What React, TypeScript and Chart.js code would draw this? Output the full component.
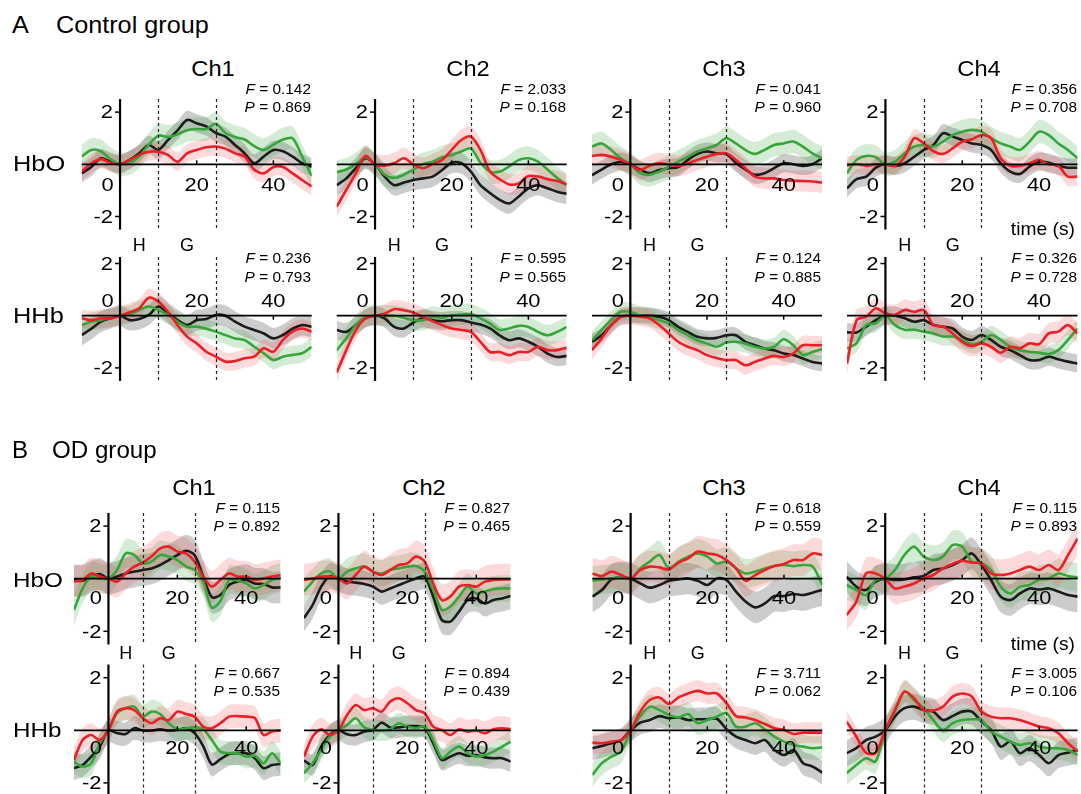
import React, { useEffect, useRef } from "react";
import { Chart, registerables } from "chart.js";

Chart.register(...registerables);

// ---------------- DATA ----------------
const TIME = [-10, -7.5, -5, -2.5, 0, 2.5, 5, 7.5, 10, 12.5, 15, 17.5, 20, 22.5, 25, 27.5, 30, 32.5, 35, 37.5, 40, 42.5, 45, 47.5, 50];

const X_TICKS = [0, 20, 40];
const Y_TICKS = [2, -2];
const HOLD_END = 10;
const GAME_END = 25;

// Control group, HbO
const ctrlHbO1Black = [-0.35, -0.1, 0.23, 0.1, 0, 0.17, 0.42, 0.74, 0.55, 0.93, 1.3, 1.7, 1.57, 1.45, 1.2, 1.06, 0.74, 0.42, 0.04, 0.3, 0.55, 0.5, 0.3, 0.04, -0.1];
const ctrlHbO1Green = [0.3, 0.55, 0.5, 0.2, 0, 0.05, 0.3, 0.75, 1.1, 1.05, 1.15, 1.3, 1.35, 1.35, 1.55, 1.2, 1.05, 0.95, 0.7, 0.55, 0.75, 0.95, 1.0, 0.3, -0.45];
const ctrlHbO1Red = [-0.28, 0.04, 0.2, 0.06, 0, 0.17, 0.36, 0.48, 0.48, 0.36, 0.1, 0.42, 0.55, 0.65, 0.68, 0.6, 0.42, 0.3, -0.2, -0.35, -0.1, -0.1, -0.35, -0.6, -0.85];

const ctrlHbO2Black = [-0.8, -0.54, -0.15, 0.23, 0, -0.47, -0.8, -0.7, -0.6, -0.54, -0.47, -0.22, 0.06, 0.04, -0.28, -0.8, -1.1, -1.36, -1.5, -1.23, -0.92, -0.8, -0.92, -1.05, -1.13];
const ctrlHbO2Green = [-0.3, -0.2, 0, 0.27, 0, -0.4, -0.52, -0.4, -0.2, 0, 0.1, 0.27, 0.36, 0.49, 0.61, 0.06, -0.28, -0.28, -0.08, 0.17, 0.23, 0.1, -0.2, -0.52, -0.8];
const ctrlHbO2Red = [-1.62, -0.98, -0.34, 0.32, 0, -0.05, 0.04, 0.23, 0, -0.15, 0, 0.17, 0.55, 0.93, 1.06, 0.55, -0.28, -0.57, -0.77, -0.73, -0.45, -0.47, -0.57, -0.64, -0.77];

const ctrlHbO3Black = [-0.42, -0.2, 0, 0.1, 0, -0.2, -0.34, -0.22, -0.15, -0.11, 0.17, 0.4, 0.49, 0.42, 0.4, 0.06, -0.2, -0.4, -0.34, -0.15, 0.04, 0, -0.06, 0, 0.23];
const ctrlHbO3Green = [0.68, 0.8, 0.55, 0.23, 0, -0.34, -0.4, -0.28, -0.1, 0.1, 0.29, 0.49, 0.61, 0.74, 1.0, 0.8, 0.55, 0.4, 0.55, 0.74, 0.8, 0.87, 0.68, 0.42, 0.23];
const ctrlHbO3Red = [0.32, 0.36, 0.29, 0.17, 0, -0.22, -0.06, 0.04, 0, -0.06, 0.04, 0.17, 0.29, 0.4, 0.42, 0.17, -0.15, -0.47, -0.54, -0.54, -0.6, -0.63, -0.64, -0.66, -0.7];

const ctrlHbO4Black = [-0.92, -0.57, -0.47, -0.13, 0, -0.06, 0.04, 0.29, 0.55, 0.74, 1.19, 1.06, 0.93, 0.8, 0.74, 0.55, 0.04, -0.28, -0.37, -0.09, 0.1, 0.06, -0.06, -0.13, -0.13];
const ctrlHbO4Green = [-0.34, 0.17, 0.32, 0.27, 0, 0.1, 0.42, 0.68, 0.74, 0.68, 0.87, 1.12, 1.25, 1.32, 1.25, 1.0, 0.8, 0.68, 0.55, 0.87, 1.25, 1.12, 0.8, 0.55, 0.23];
const ctrlHbO4Red = [-0.04, 0, -0.06, 0, 0, -0.06, 0.29, 1.0, 0.8, 0.5, 0.4, 0.61, 0.87, 0.96, 1.12, 1.0, 0.23, -0.06, -0.06, 0.04, 0.17, 0, -0.06, -0.47, -0.47];

// Control group, HHb
const ctrlHHb1Black = [-0.74, -0.5, -0.23, -0.1, 0, -0.17, -0.13, 0.03, 0.35, 0.1, -0.17, -0.36, -0.17, -0.13, 0.03, 0, -0.23, -0.42, -0.55, -0.68, -0.87, -0.74, -0.5, -0.36, -0.42];
const ctrlHHb1Green = [-0.36, -0.23, -0.17, -0.08, 0, 0.05, 0.22, 0.35, 0.22, 0.03, -0.23, -0.42, -0.42, -0.5, -0.61, -0.74, -0.87, -0.93, -1.19, -1.44, -1.7, -1.57, -1.5, -1.44, -1.19];
const ctrlHHb1Red = [-0.1, -0.17, -0.1, -0.1, 0, 0.13, 0.28, 0.69, 0.54, 0.15, -0.36, -0.8, -1.06, -1.38, -1.57, -1.76, -1.74, -1.63, -1.57, -1.25, -1.38, -0.93, -0.61, -0.49, -0.61];

const ctrlHHb2Black = [-0.55, -0.62, -0.36, -0.1, 0, -0.1, -0.43, -0.49, -0.26, -0.1, -0.17, -0.21, -0.17, -0.17, -0.26, -0.34, -0.49, -0.75, -0.94, -0.87, -1.0, -1.19, -1.45, -1.58, -1.54];
const ctrlHHb2Green = [-1.32, -0.87, -0.36, -0.04, 0, 0, 0, -0.08, -0.17, -0.17, -0.04, -0.08, 0.02, 0.04, 0.06, -0.1, -0.3, -0.55, -0.49, -0.39, -0.43, -0.62, -0.75, -0.62, -0.43];
const ctrlHHb2Red = [-2.18, -1.32, -0.55, -0.1, 0, 0.08, 0.25, 0.21, 0.12, -0.04, -0.21, -0.36, -0.49, -0.55, -0.62, -1.0, -1.39, -1.39, -1.51, -1.39, -1.39, -1.19, -1.32, -1.32, -1.23];

const ctrlHHb3Black = [-1.0, -0.75, -0.36, -0.04, 0, 0.02, 0, -0.04, -0.17, -0.43, -0.62, -0.81, -0.87, -0.85, -0.75, -0.75, -1.0, -1.13, -1.26, -1.32, -1.45, -1.51, -1.64, -1.77, -1.83];
const ctrlHHb3Green = [-0.94, -0.55, -0.17, 0.15, 0.15, 0.02, -0.04, -0.17, -0.3, -0.55, -0.75, -0.94, -1.07, -1.19, -1.03, -1.0, -1.07, -1.19, -1.26, -1.19, -0.9, -1.13, -1.51, -1.39, -1.28];
const ctrlHHb3Red = [-1.32, -0.87, -0.36, -0.04, 0, -0.04, -0.1, -0.36, -0.68, -1.0, -1.19, -1.32, -1.51, -1.62, -1.7, -1.7, -1.9, -1.77, -1.64, -1.54, -1.58, -1.45, -1.13, -1.13, -1.13];

const ctrlHHb4Black = [-0.64, -0.64, -0.42, -0.17, 0, 0, -0.1, -0.23, -0.17, -0.36, -0.42, -0.49, -0.8, -0.93, -0.74, -0.93, -1.19, -1.32, -1.51, -1.7, -1.7, -1.57, -1.67, -1.76, -1.83];
const ctrlHHb4Green = [-1.25, -1.05, -0.36, -0.29, 0, -0.36, -0.54, -0.54, -0.61, -0.68, -0.8, -0.8, -0.93, -1.09, -1.0, -0.74, -0.93, -1.19, -1.32, -1.38, -1.42, -1.47, -1.32, -0.93, -0.49];
const ctrlHHb4Red = [-1.83, -0.17, -0.04, 0.28, 0.09, 0.03, 0.22, 0.15, 0.22, -0.36, -0.42, -0.68, -1.0, -1.16, -1.06, -1.19, -1.42, -1.19, -1.25, -1.06, -1.09, -0.68, -0.61, -0.36, -0.68];

// OD group, HbO
const odHbO1Black = [-0.05, -0.08, 0.08, 0.18, 0, 0.08, 0.2, 0.27, 0.33, 0.39, 0.52, 0.71, 0.9, 1.06, 0.9, 0.08, -0.7, -0.62, -0.24, -0.11, -0.05, -0.18, -0.2, -0.33, -0.33];
const odHbO1Green = [-1.19, -0.37, 0.08, 0.01, 0, 0.33, 0.96, 0.9, 0.58, 0.65, 0.9, 0.84, 0.71, 0.46, 0.33, -0.11, -1.1, -0.85, -0.05, -0.08, -0.18, -0.37, -0.24, -0.05, 0.05];
const odHbO1Red = [-0.11, -0.05, 0.2, 0.08, 0, -0.11, 0.2, 0.46, 0.61, 0.84, 1.15, 1.22, 1.03, 0.96, 0.65, 0.08, -0.3, -0.05, 0.2, 0.08, 0.08, -0.05, 0.01, 0.08, 0.14];

const odHbO2Black = [-1.5, -1.0, -0.3, 0.1, 0, -0.11, -0.15, -0.2, -0.3, -0.49, -0.37, -0.24, -0.11, 0.01, 0.08, -0.68, -1.57, -1.63, -1.25, -0.81, -0.75, -0.94, -0.81, -0.75, -0.66];
const odHbO2Green = [-0.49, -0.11, 0.2, 0.27, 0, 0.27, 0.39, 0.46, 0.27, 0.2, 0.33, 0.39, 0.46, 0.48, 0.27, -0.43, -1.19, -1.06, -0.68, -0.3, -0.56, -0.49, -0.4, -0.37, -0.37];
const odHbO2Red = [-0.05, 0.01, 0.08, 0.08, 0, -0.18, 0.14, 0.46, 0.27, 0.14, 0.33, 0.52, 0.58, 0.84, 0.65, -0.18, -0.81, -0.68, -0.3, -0.24, -0.3, -0.11, -0.05, -0.03, -0.03];

const odHbO3Black = [-0.68, -0.43, -0.03, 0.05, 0, -0.18, -0.34, -0.24, -0.08, -0.03, 0.01, -0.08, -0.24, 0.01, -0.05, -0.49, -0.87, -1.09, -0.94, -0.66, -0.66, -0.58, -0.62, -0.53, -0.43];
const odHbO3Green = [-0.08, -0.03, 0.01, 0.05, 0, 0.39, 0.65, 0.9, 0.39, 0.65, 0.84, 0.96, 0.84, 0.58, 0.65, 0.39, 0.2, 0.27, 0.39, 0.48, 0.52, 0.48, 0.52, 0.46, -0.24];
const odHbO3Red = [0.2, 0.1, 0.27, 0.14, 0, 0.33, 0.46, 0.43, 0.35, 0.61, 0.77, 1.03, 0.96, 0.9, 0.71, 0.39, -0.08, 0.14, 0.33, 0.48, 0.56, 0.71, 0.71, 0.96, 0.9];

const odHbO4Black = [0.08, -0.3, -0.43, -0.11, 0, -0.05, -0.03, 0.05, 0.1, 0.33, 0.39, 0.52, 0.71, 0.96, 0.52, -0.05, -0.68, -0.81, -0.56, -0.37, -0.41, -0.37, -0.49, -0.62, -0.68];
const odHbO4Green = [-0.24, -0.43, -0.62, -0.05, 0, 0.33, 0.9, 1.22, 0.84, 0.71, 0.84, 1.28, 1.22, 0.65, 0.58, 0.33, -0.3, -0.56, -0.3, -0.24, -0.03, 0.01, 0.2, 0.1, 0.05];
const odHbO4Red = [-1.38, -0.87, 0.2, 0.2, 0, -0.37, -0.3, -0.18, 0.01, 0.14, 0.39, 0.56, 0.68, 0.61, 0.58, 0.2, 0.14, 0.2, 0.33, 0.46, 0.33, 0.52, 0.33, 0.9, 1.53];

// OD group, HHb
const odHHb1Black = [-1.44, -1.32, -1.0, -0.62, 0, -0.11, -0.14, 0.08, -0.01, -0.01, 0.04, -0.01, 0.01, 0.08, -0.11, -0.6, -1.3, -1.1, -0.9, -0.87, -0.87, -1.06, -1.44, -1.32, -1.28];
const odHHb1Green = [-1.19, -1.38, -1.25, -0.49, 0, 0.65, 0.84, 0.9, 0.52, 0.71, 0.62, 0.27, 0.04, 0.08, 0.11, 0.04, -0.37, -0.81, -0.87, -0.87, -1.0, -0.97, -1.25, -0.87, -1.25];
const odHHb1Red = [-1.13, -0.37, -0.18, -0.37, 0, 0.71, 0.84, 0.77, 0.46, 0.27, 0.46, 0.39, 0.71, 0.62, 0.52, 0.14, 0.08, 0.27, 0.52, 0.54, 0.52, 0.46, -0.18, -0.05, -0.01];

const odHHb2Black = [-1.15, -1.32, -0.62, -0.18, 0, -0.15, -0.18, -0.05, 0.01, 0.29, 0.11, 0.11, 0.16, 0.16, 0.11, -0.49, -1.13, -1.0, -0.87, -0.97, -0.94, -1.03, -1.06, -1.06, -1.19];
const odHHb2Green = [-1.63, -1.25, -0.75, -0.24, 0, 0.2, 0.46, 0.11, 0.01, -0.01, 0.04, 0.27, 0.14, 0.08, 0.14, -0.37, -1.06, -0.81, -0.62, -0.87, -1.0, -0.94, -0.81, -0.62, -0.43];
const odHHb2Red = [-1.0, -0.24, 0.04, -0.18, 0, 0.58, 0.96, 0.77, 0.84, 0.71, 1.09, 1.22, 1.03, 0.77, 0.65, 0.14, 0.01, -0.18, 0.04, -0.05, -0.01, -0.11, 0.04, 0.08, 0.04];

const odHHb3Black = [-0.68, -0.6, -0.49, -0.37, 0, 0.29, 0.39, 0.54, 0.46, 0.49, 0.39, 0.42, 0.42, 0.44, 0.04, -0.24, -0.37, -0.49, -0.37, -0.75, -0.94, -0.75, -1.25, -1.38, -1.61];
const odHHb3Green = [-1.7, -1.25, -1.0, -0.81, 0, 0.54, 0.9, 0.77, 0.58, 0.49, 0.62, 0.27, 0.39, 0.52, 0.65, 0.14, 0.14, 0.27, 0.04, -0.24, -0.43, -0.56, -0.62, -0.68, -0.65];
const odHHb3Red = [-0.47, -0.49, -0.43, -0.37, 0, 0.71, 1.15, 1.25, 1.0, 1.25, 1.4, 1.5, 1.4, 1.4, 1.03, 0.54, 0.49, 0.39, 0.24, 0.08, 0.01, -0.14, -0.09, -0.09, -0.09];

const odHHb4Black = [-0.87, -0.68, -0.37, -0.24, 0, 0.52, 0.84, 0.9, 0.77, 0.71, 0.39, 0.54, 0.71, 0.71, 0.33, 0.01, -0.62, -0.43, -0.87, -0.68, -0.94, -1.25, -0.94, -0.85, -0.75];
const odHHb4Green = [-1.63, -1.32, -1.06, -1.19, 0, 0.71, 1.47, 1.15, 0.84, 0.39, 0.01, 0.27, 0.39, 0.42, 0.39, -0.05, -0.24, -0.43, -0.56, -0.49, -0.62, -0.68, -0.68, -0.75, -0.94];
const odHHb4Red = [0.33, -0.24, -0.85, -0.87, 0, 0.77, 1.47, 1.22, 0.77, 0.75, 0.9, 1.28, 1.4, 1.28, 0.71, 0.52, 0.46, 0.46, 0.39, 0.27, 0.14, 0.08, -0.11, -0.49, -0.81];

// band half-widths [black, green, red]
const ctrlHbOSE = [[0.35, 0.45, 0.35], [0.4, 0.45, 0.4], [0.35, 0.45, 0.4], [0.35, 0.45, 0.35]];
const ctrlHHbSE = [[0.4, 0.35, 0.35], [0.35, 0.4, 0.35], [0.3, 0.35, 0.35], [0.35, 0.35, 0.4]];
const odHbOSE = [[0.6, 0.55, 0.6], [0.5, 0.5, 0.6], [0.6, 0.55, 0.6], [0.6, 0.55, 0.6]];
const odHHbSE = [[0.45, 0.45, 0.45], [0.4, 0.4, 0.45], [0.45, 0.45, 0.4], [0.5, 0.45, 0.4]];

// statistics
const ctrlHbOF = ["0.142", "2.033", "0.041", "0.356"];
const ctrlHbOP = ["0.869", "0.168", "0.960", "0.708"];
const ctrlHHbF = ["0.236", "0.595", "0.124", "0.326"];
const ctrlHHbP = ["0.793", "0.565", "0.885", "0.728"];
const odHbOF = ["0.115", "0.827", "0.618", "0.115"];
const odHbOP = ["0.892", "0.465", "0.559", "0.893"];
const odHHbF = ["0.667", "0.894", "3.711", "3.005"];
const odHHbP = ["0.535", "0.439", "0.062", "0.106"];

const CHANNELS = ["Ch1", "Ch2", "Ch3", "Ch4"];

// ---------------- STYLE / LAYOUT ----------------
const FONT = '"Liberation Sans", Arial, Helvetica, sans-serif';
const LINE_COLORS = { red: "#ec1f26", green: "#36a63b", black: "#1b1b1b" };
const BAND_COLORS = { red: "rgba(240,80,85,0.22)", green: "rgba(60,170,70,0.22)", black: "rgba(95,95,95,0.32)" };
const LINE_WIDTH = 2.6;
const TICK_FONT = 17.5;
const TICK_STRETCH = 1.25;

type RowKey = "A_HbO" | "A_HHb" | "B_HbO" | "B_HHb";
const ROWS: Record<RowKey, { zero: number; ppu: number; ymax: number; tickSide: number; tickOff: number; fY: number; pY: number }> = {
  A_HbO: { zero: 164.3, ppu: 26.1, ymax: 2.5, tickSide: 1, tickOff: 20, fY: 89.3, pY: 106.7 },
  A_HHb: { zero: 315.7, ppu: 26.1, ymax: 2.25, tickSide: -1, tickOff: 15, fY: 258.3, pY: 276.7 },
  B_HbO: { zero: 578.7, ppu: 26.3, ymax: 2.5, tickSide: 1, tickOff: 19, fY: 508, pY: 525.5 },
  B_HHb: { zero: 730.3, ppu: 26.3, ymax: 2.5, tickSide: 1, tickOff: 17, fY: 673.3, pY: 691 },
};
const COLS = {
  A: [{ L: 81.7, W: 230 }, { L: 336.7, W: 230 }, { L: 592, W: 230 }, { L: 847, W: 230.5 }],
  B: [{ L: 74, W: 206.7 }, { L: 304, W: 206.7 }, { L: 592.3, W: 230 }, { L: 846.7, W: 231 }],
};
const GROUPS = {
  A: { letter: "A", title: "Control group", titleY: 25, titleSize: 24, titleX: 56, chY: 69.5, chSize: 21.5, hgY: 245, timeY: 229.3, rowSize: 21.5, hboY: 164.5, hhbY: 316.5 },
  B: { letter: "B", title: "OD group", titleY: 450, titleSize: 23, titleX: 52, chY: 489, chSize: 21.5, hgY: 653.3, timeY: 644, rowSize: 20.5, hboY: 580.5, hhbY: 730.5 },
};

type PanelSpec = {
  group: "A" | "B";
  row: "HbO" | "HHb";
  ch: number;
  black: number[];
  green: number[];
  red: number[];
  se: number[];
  F: string;
  P: string;
};

function buildRow(group: "A" | "B", row: "HbO" | "HHb", series: number[][][], se: number[][], F: string[], P: string[]): PanelSpec[] {
  return series.map((s, i) => ({ group, row, ch: i, black: s[0], green: s[1], red: s[2], se: se[i], F: F[i], P: P[i] }));
}

const PANELS: PanelSpec[] = [
  ...buildRow("A", "HbO", [
    [ctrlHbO1Black, ctrlHbO1Green, ctrlHbO1Red],
    [ctrlHbO2Black, ctrlHbO2Green, ctrlHbO2Red],
    [ctrlHbO3Black, ctrlHbO3Green, ctrlHbO3Red],
    [ctrlHbO4Black, ctrlHbO4Green, ctrlHbO4Red],
  ], ctrlHbOSE, ctrlHbOF, ctrlHbOP),
  ...buildRow("A", "HHb", [
    [ctrlHHb1Black, ctrlHHb1Green, ctrlHHb1Red],
    [ctrlHHb2Black, ctrlHHb2Green, ctrlHHb2Red],
    [ctrlHHb3Black, ctrlHHb3Green, ctrlHHb3Red],
    [ctrlHHb4Black, ctrlHHb4Green, ctrlHHb4Red],
  ], ctrlHHbSE, ctrlHHbF, ctrlHHbP),
  ...buildRow("B", "HbO", [
    [odHbO1Black, odHbO1Green, odHbO1Red],
    [odHbO2Black, odHbO2Green, odHbO2Red],
    [odHbO3Black, odHbO3Green, odHbO3Red],
    [odHbO4Black, odHbO4Green, odHbO4Red],
  ], odHbOSE, odHbOF, odHbOP),
  ...buildRow("B", "HHb", [
    [odHHb1Black, odHHb1Green, odHHb1Red],
    [odHHb2Black, odHHb2Green, odHHb2Red],
    [odHHb3Black, odHHb3Green, odHHb3Red],
    [odHHb4Black, odHHb4Green, odHHb4Red],
  ], odHHbSE, odHHbF, odHHbP),
];

// ---------------- COMPONENTS ----------------
function Panel({ spec }: { spec: PanelSpec }) {
  const ref = useRef<HTMLCanvasElement | null>(null);
  const col = COLS[spec.group][spec.ch];
  const row = ROWS[(spec.group + "_" + spec.row) as RowKey];
  const ytop = row.zero - row.ymax * row.ppu;
  const ybot = row.zero + 2.5 * row.ppu;
  const cLeft = Math.floor(col.L) - 50;
  const cTop = Math.floor(ytop) - 12;
  const cW = Math.ceil(col.L + col.W) + 6 - cLeft;
  const cH = Math.ceil(ybot) + 30 - cTop;

  useEffect(() => {
    const canvas = ref.current;
    if (!canvas) return;
    const pts = (arr: number[], d: number) => TIME.map((t, i) => ({ x: t, y: arr[i] + d }));
    const line = (arr: number[], color: string) => ({
      data: pts(arr, 0),
      borderColor: color,
      borderWidth: LINE_WIDTH,
      pointRadius: 0,
      tension: 0.3,
      fill: false,
    });
    const band = (arr: number[], se: number, color: string) => [
      { data: pts(arr, se), borderColor: "rgba(0,0,0,0)", borderWidth: 0, pointRadius: 0, tension: 0.3, fill: "+1", backgroundColor: color },
      { data: pts(arr, -se), borderColor: "rgba(0,0,0,0)", borderWidth: 0, pointRadius: 0, tension: 0.3, fill: false },
    ];
    const datasets: any[] = [
      line(spec.red, LINE_COLORS.red),
      line(spec.green, LINE_COLORS.green),
      line(spec.black, LINE_COLORS.black),
      ...band(spec.red, spec.se[2], BAND_COLORS.red),
      ...band(spec.green, spec.se[1], BAND_COLORS.green),
      ...band(spec.black, spec.se[0], BAND_COLORS.black),
    ];

    const stretchedText = (ctx: CanvasRenderingContext2D, s: string, x: number, y: number) => {
      ctx.save();
      ctx.translate(x, y);
      ctx.scale(TICK_STRETCH, 1);
      ctx.fillText(s, 0, 0);
      ctx.restore();
    };

    const axesPlugin = {
      id: "crossAxes",
      afterDatasetsDraw(chart: any) {
        const ctx: CanvasRenderingContext2D = chart.ctx;
        const xs = chart.scales.x;
        const ys = chart.scales.y;
        const a = chart.chartArea;
        const x0 = xs.getPixelForValue(0);
        const y0 = ys.getPixelForValue(0);
        ctx.save();
        ctx.strokeStyle = "#222";
        ctx.lineWidth = 1.2;
        ctx.setLineDash([3, 3]);
        [HOLD_END, GAME_END].forEach((t) => {
          const px = Math.round(xs.getPixelForValue(t)) + 0.5;
          ctx.beginPath();
          ctx.moveTo(px, a.top);
          ctx.lineTo(px, a.bottom);
          ctx.stroke();
        });
        ctx.setLineDash([]);
        ctx.strokeStyle = "#000";
        ctx.lineWidth = 1.8;
        ctx.beginPath();
        ctx.moveTo(a.left, y0);
        ctx.lineTo(a.right, y0);
        ctx.stroke();
        ctx.lineWidth = 2.2;
        ctx.beginPath();
        ctx.moveTo(x0, a.top);
        ctx.lineTo(x0, a.bottom);
        ctx.stroke();
        const fs = TICK_FONT;
        ctx.font = `${fs}px ${FONT}`;
        ctx.fillStyle = "#000";
        ctx.lineWidth = 1.5;
        ctx.textAlign = "right";
        ctx.textBaseline = "alphabetic";
        Y_TICKS.forEach((v) => {
          const py = ys.getPixelForValue(v);
          ctx.beginPath();
          ctx.moveTo(x0 - 5, py);
          ctx.lineTo(x0, py);
          ctx.stroke();
          stretchedText(ctx, String(v), x0 - 7, py + 0.36 * fs);
        });
        ctx.textAlign = "center";
        const ly = y0 + row.tickSide * row.tickOff + 0.36 * fs;
        X_TICKS.forEach((t) => {
          const px = xs.getPixelForValue(t);
          if (t !== 0) {
            ctx.beginPath();
            ctx.moveTo(px, y0);
            ctx.lineTo(px, y0 - row.tickSide * 4);
            ctx.stroke();
            stretchedText(ctx, String(t), px, ly);
          } else {
            stretchedText(ctx, "0", px - 12.5, ly);
          }
        });
        ctx.restore();
      },
    };

    const chart = new Chart(canvas, {
      type: "line",
      data: { datasets },
      options: {
        responsive: false,
        animation: false,
        devicePixelRatio: 1,
        events: [],
        layout: {
          padding: {
            left: col.L - cLeft,
            right: cLeft + cW - (col.L + col.W),
            top: ytop - cTop,
            bottom: cTop + cH - ybot,
          },
        },
        plugins: {
          legend: { display: false },
          tooltip: { enabled: false },
          filler: { drawTime: "beforeDatasetsDraw" },
        } as any,
        scales: {
          x: { type: "linear", min: -10, max: 50, display: false },
          y: { type: "linear", min: -2.5, max: row.ymax, display: false },
        },
      },
      plugins: [axesPlugin],
    } as any);
    return () => chart.destroy();
  }, []);

  return (
    <canvas
      ref={ref}
      width={cW}
      height={cH}
      style={{ position: "absolute", left: cLeft, top: cTop, width: cW, height: cH }}
    />
  );
}

function Txt({ x, y, size, align = "left", stretch = 1, children }: { x: number; y: number; size: number; align?: "left" | "center" | "right"; stretch?: number; children: React.ReactNode }) {
  const tx = align === "left" ? "0" : align === "center" ? "-50%" : "-100%";
  return (
    <div
      style={{
        position: "absolute",
        left: x,
        top: y - 0.49 * size,
        fontSize: size,
        lineHeight: `${size}px`,
        fontFamily: FONT,
        whiteSpace: "nowrap",
        transform: `translateX(${tx}) scaleX(${stretch})`,
        transformOrigin: align,
        color: "#000",
      }}
    >
      {children}
    </div>
  );
}

export default function App() {
  const texts: React.ReactNode[] = [];
  (["A", "B"] as const).forEach((g) => {
    const G = GROUPS[g];
    texts.push(<Txt key={g + "L"} x={g === "A" ? 12 : 11.5} y={G.titleY} size={G.titleSize} stretch={1.05}>{G.letter}</Txt>);
    texts.push(<Txt key={g + "T"} x={G.titleX} y={G.titleY} size={G.titleSize} stretch={1.05}>{G.title}</Txt>);
    texts.push(<Txt key={g + "hbo"} x={12.5} y={G.hboY} size={G.rowSize} stretch={1.18}>HbO</Txt>);
    texts.push(<Txt key={g + "hhb"} x={13} y={G.hhbY} size={G.rowSize} stretch={1.18}>HHb</Txt>);
    texts.push(<Txt key={g + "time"} x={1075} y={G.timeY} size={18.5} align="right" stretch={1.04}>time (s)</Txt>);
    COLS[g].forEach((c, i) => {
      const pps = c.W / 60;
      const ax = c.L + 10 * pps;
      texts.push(<Txt key={g + "ch" + i} x={c.L + c.W / 2 + 16.5} y={G.chY} size={G.chSize} align="center" stretch={1.1}>{CHANNELS[i]}</Txt>);
      texts.push(<Txt key={g + "H" + i} x={ax + 5 * pps} y={G.hgY} size={18} align="center">H</Txt>);
      texts.push(<Txt key={g + "G" + i} x={ax + 17.5 * pps} y={G.hgY} size={18} align="center">G</Txt>);
    });
  });
  PANELS.forEach((p, k) => {
    const c = COLS[p.group][p.ch];
    const r = ROWS[(p.group + "_" + p.row) as RowKey];
    texts.push(<Txt key={"f" + k} x={c.L + c.W - 1} y={r.fY} size={14} align="right" stretch={1.1}><i>F</i> = {p.F}</Txt>);
    texts.push(<Txt key={"p" + k} x={c.L + c.W - 1} y={r.pY} size={14} align="right" stretch={1.1}><i>P</i> = {p.P}</Txt>);
  });

  return (
    <div style={{ position: "absolute", left: 0, top: 0, width: 1081, height: 794, overflow: "hidden", background: "#fff" }}>
      {PANELS.map((p, k) => (
        <Panel key={k} spec={p} />
      ))}
      {texts}
    </div>
  );
}
